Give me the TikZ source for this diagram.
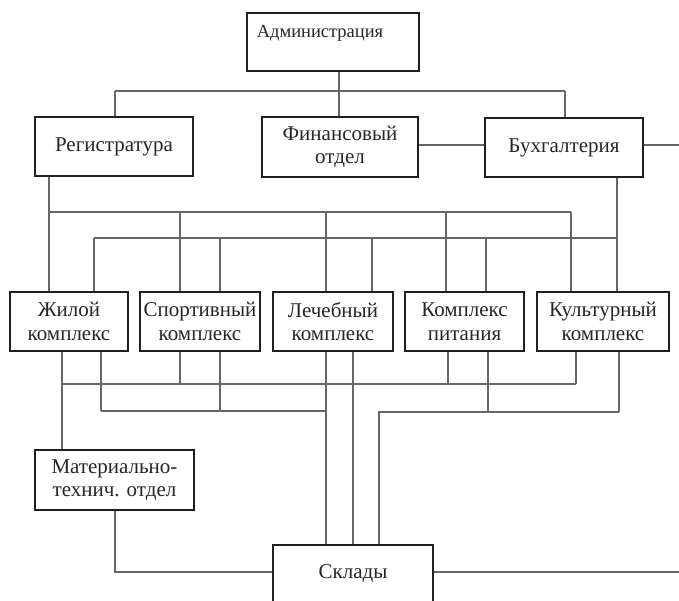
\documentclass[tikz,border=0pt]{standalone}
\usepackage{fontspec}
\setmainfont{Liberation Serif}
\begin{document}
\begin{tikzpicture}[x=1pt,y=-1pt,
  box/.style={draw=black!88, line width=2.7pt, inner sep=0pt, align=center,
    text=black!85, font=\fontsize{21}{23.5}\selectfont},
  conn/.style={draw=black!60, line width=1.1pt}]
\useasboundingbox[fill=white] (0,0) rectangle (679,601);
% boxes
\node[box, minimum width=172, minimum height=58] (adm) at (333,42) {};
\node[text=black!85, font=\fontsize{18.5}{20}\selectfont, inner sep=0pt] (admt) at (320,33) {Администрация};
\node[box, minimum width=158, minimum height=59] (reg) at (114,146.5) {Регистратура};
\node[box, minimum width=156, minimum height=60] (fin) at (340,147) {Финансовый\\отдел};
\node[box, minimum width=158, minimum height=59] (buh) at (564,147.5) {Бухгалтерия};
\node[box, minimum width=118, minimum height=59] (zhil) at (69,321.5) {Жилой\\комплекс};
\node[box, minimum width=120, minimum height=59] (sport) at (200,321.5) {Спортивный\\комплекс};
\node[box, minimum width=120, minimum height=59] (lech) at (333,321.5) {Лечебный\\комплекс};
\node[box, minimum width=119, minimum height=59] (pit) at (464.5,321.5) {Комплекс\\питания};
\node[box, minimum width=132, minimum height=59] (kult) at (603,321.5) {Культурный\\комплекс};
\node[box, minimum width=159, minimum height=60] (mat) at (114.5,480) {Материально-\\технич. отдел};
\node[box, minimum width=160, minimum height=58] (skl) at (353,574) {Склады};
% named coordinates
\coordinate (t1) at (115,91);
\coordinate (t2) at (339,91);
\coordinate (t3) at (565,91);
\coordinate (r1) at (679,145);
\coordinate (a1) at (49,212);
\coordinate (a2) at (180,212);
\coordinate (a3) at (326,212);
\coordinate (a4) at (446,212);
\coordinate (a5) at (571,212);
\coordinate (b1) at (94,238);
\coordinate (b2) at (220,238);
\coordinate (b3) at (372,238);
\coordinate (b4) at (486,238);
\coordinate (b5) at (617,238);
\coordinate (c1) at (62,384);
\coordinate (c2) at (180,384);
\coordinate (c3) at (326,384);
\coordinate (c4) at (448,384);
\coordinate (c5) at (576,384);
\coordinate (d1) at (101,411);
\coordinate (d2) at (220,411);
\coordinate (d3) at (326,411);
\coordinate (e0) at (353,411);
\coordinate (e1) at (379,412);
\coordinate (e2) at (488,412);
\coordinate (e3) at (619,412);
\coordinate (m1) at (115,572);
\coordinate (r2) at (679,572);
% top level
\draw[conn] (adm.south -| t2) -- (fin.north -| t2);
\draw[conn] (t1) -- (t3);
\draw[conn] (t1) -- (reg.north -| t1);
\draw[conn] (t3) -- (buh.north -| t3);
\draw[conn] (fin.east |- r1) -- (buh.west |- r1);
\draw[conn] (buh.east |- r1) -- (r1);
% bus 1 (from Регистратура)
\draw[conn] (reg.south -| a1) -- (zhil.north -| a1);
\draw[conn] (a1) -- (a5);
\draw[conn] (a2) -- (sport.north -| a2);
\draw[conn] (a3) -- (lech.north -| a3);
\draw[conn] (a4) -- (pit.north -| a4);
\draw[conn] (a5) -- (kult.north -| a5);
% bus 2 (from Бухгалтерия)
\draw[conn] (buh.south -| b5) -- (kult.north -| b5);
\draw[conn] (b1) -- (b5);
\draw[conn] (b1) -- (zhil.north -| b1);
\draw[conn] (b2) -- (sport.north -| b2);
\draw[conn] (b3) -- (lech.north -| b3);
\draw[conn] (b4) -- (pit.north -| b4);
% bus 3 (to Материально-технич. отдел)
\draw[conn] (c1) -- (c5);
\draw[conn] (zhil.south -| c1) -- (mat.north -| c1);
\draw[conn] (sport.south -| c2) -- (c2);
\draw[conn] (lech.south -| c3) -- (skl.north -| c3);
\draw[conn] (pit.south -| c4) -- (c4);
\draw[conn] (kult.south -| c5) -- (c5);
% bus 4 (to Склады)
\draw[conn] (d1) -- (d3);
\draw[conn] (zhil.south -| d1) -- (d1);
\draw[conn] (sport.south -| d2) -- (d2);
\draw[conn] (lech.south -| e0) -- (skl.north -| e0);
\draw[conn] (skl.north -| e1) -- (e1) -- (e3);
\draw[conn] (pit.south -| e2) -- (e2);
\draw[conn] (kult.south -| e3) -- (e3);
% bottom
\draw[conn] (mat.south -| m1) -- (m1) -- (skl.west |- m1);
\draw[conn] (skl.east |- r2) -- (r2);
\end{tikzpicture}
\end{document}
